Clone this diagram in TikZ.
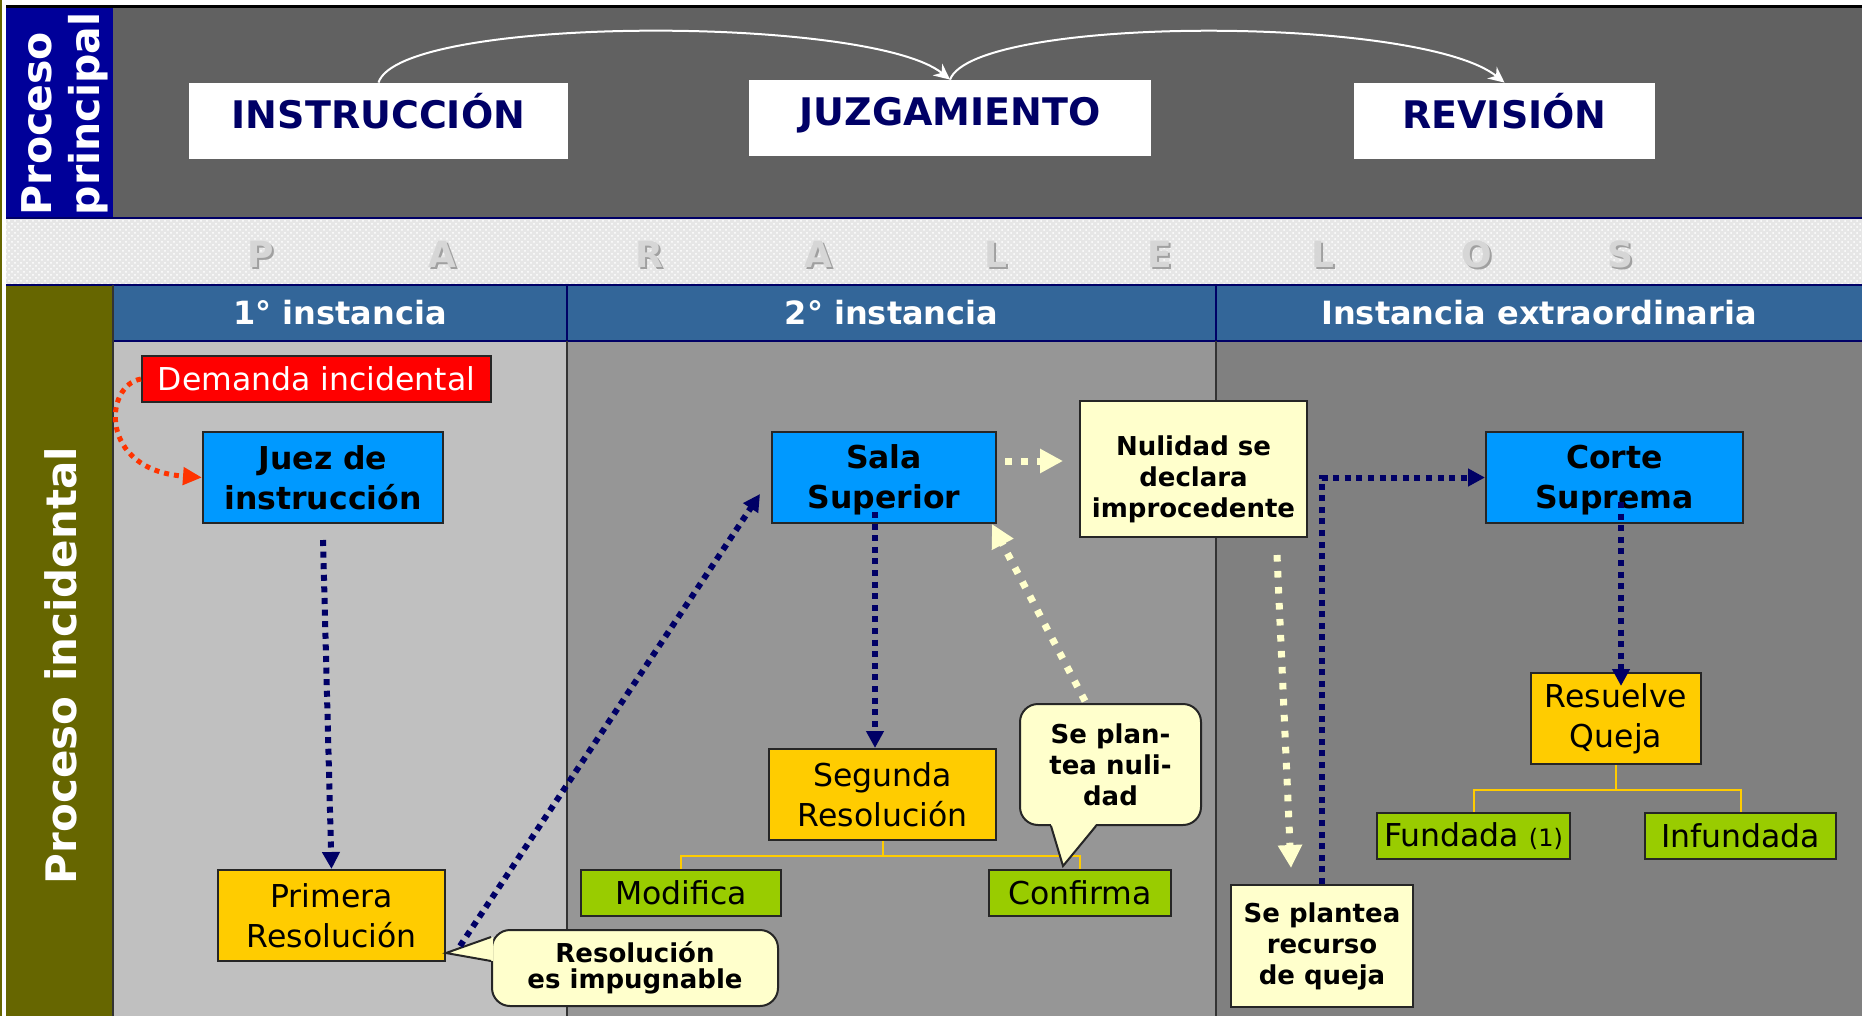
\documentclass[tikz,border=0pt]{standalone}
\usepackage{fontspec}
\setmainfont{DejaVu Sans}
\usetikzlibrary{arrows.meta,calc,patterns}
\definecolor{celeste}{HTML}{0099FF}
\definecolor{amarillo}{HTML}{FFCC00}
\definecolor{verde}{HTML}{99CC00}
\definecolor{crema}{HTML}{FFFFCC}
\definecolor{rojo}{HTML}{FF0000}
\definecolor{naranja}{HTML}{FF3300}
\definecolor{marino}{HTML}{000066}
\definecolor{azulrey}{HTML}{000099}
\definecolor{cabecera}{HTML}{336699}
\definecolor{oliva}{HTML}{666600}
\definecolor{grisA}{HTML}{616161}
\definecolor{grisB}{HTML}{C0C0C0}
\definecolor{grisC}{HTML}{969696}
\definecolor{grisD}{HTML}{808080}
\definecolor{franja}{HTML}{E6E6E6}
\definecolor{letraclara}{HTML}{D6D6D6}
\definecolor{letrasombra}{HTML}{A0A0A0}
\begin{document}
\begin{tikzpicture}[x=0.5pt,y=-0.5pt,
	caja/.style={draw=black!85, line width=1pt, inner sep=0pt, align=center},
	negrita/.style={font=\bfseries\fontsize{15.75}{20}\selectfont},
	fina/.style={font=\fontsize{15.75}{20}\selectfont},
	chica/.style={font=\bfseries\fontsize{13}{15.5}\selectfont},
	azul/.style={caja, negrita, fill=celeste, minimum height=45.5pt},
	amarilla/.style={caja, fina, fill=amarillo, minimum height=45.5pt},
	verdecaja/.style={caja, fina, fill=verde, minimum height=23pt},
	cremacaja/.style={caja, chica, fill=crema},
	blase/.style={caja, chica, fill=crema, rounded corners=9pt},
	zipfel/.style={draw=black!85, line width=1pt, fill=crema},
	titel/.style={fill=white, text=marino, inner sep=0pt, minimum height=38pt, text height=13pt, text depth=5pt, font=\bfseries\fontsize{19}{22}\selectfont},
	kopf/.style={text=white, font=\bfseries\fontsize{16}{18}\selectfont},
	letra/.style={font=\bfseries\fontsize{18}{20}\selectfont, text=letraclara},
	flecha/.style={marino, line width=3pt, dash pattern=on 3pt off 2.8pt, -{Triangle[length=8.5pt,width=8.5pt]}},
	flechaclara/.style={crema, line width=3.5pt, dash pattern=on 3.3pt off 4.7pt, -{Triangle[length=11.5pt,width=11.5pt]}},
	flecharoja/.style={naranja, line width=2.5pt, dash pattern=on 2.5pt off 2.5pt, -{Triangle[length=9.5pt,width=8.5pt]}},
	rama/.style={amarillo, line width=1pt},
	arco/.style={white, line width=1pt, -{Stealth[length=8pt,width=7.5pt]}}]
	\useasboundingbox (0,0) rectangle (1862,1016);
	% Hintergrund und Bänder
	\fill[white] (0,0) rectangle (1862,1016);
	\fill[oliva] (0,0) rectangle (2,1016);
	\fill[grisA] (113,8) rectangle (1862,218);
	\fill[azulrey] (6,8) rectangle (113,218);
	\fill[franja] (6,218) rectangle (1862,285);
	\fill[pattern=crosshatch dots, pattern color=white] (6,218) rectangle (1862,285);
	\fill[cabecera] (113,285) rectangle (1862,341);
	\fill[oliva] (6,285) rectangle (113,1016);
	\fill[grisB] (113,341) rectangle (567,1016);
	\fill[grisC] (567,341) rectangle (1216,1016);
	\fill[grisD] (1216,341) rectangle (1862,1016);
	\draw[black, line width=1.5pt] (6,7) -- (1862,7);
	\draw[marino, line width=1pt] (6,218) -- (1862,218) (6,285) -- (1862,285) (113,341) -- (1862,341)
		(567,285) -- (567,341) (1216,285) -- (1216,341);
	\draw[black!80, line width=1pt] (113,285) -- (113,1016) (567,341) -- (567,1016) (1216,341) -- (1216,1016);
	% Beschriftung links
	\node[rotate=90, text=white, align=left, font=\bfseries\fontsize{20.5}{24}\selectfont] (principal) at (64.5,114) {Proceso\\principal};
	\node[rotate=90, text=white, font=\bfseries\fontsize{21}{24}\selectfont] (incidental) at (61,665.5) {Proceso incidental};
	% Hauptprozess
	\node[titel, minimum width=189.5pt] (instr) at (378.5,121) {INSTRUCCIÓN};
	\node[titel, minimum width=201pt] (juzg) at (950,118) {JUZGAMIENTO};
	\node[titel, minimum width=150.5pt] (revis) at (1504.5,121) {REVISIÓN};
	\draw[arco] (instr.north) .. controls (400,15) and (870,15) .. (juzg.north);
	\draw[arco] (juzg.north) .. controls (975,15) and (1420,15) .. (revis.north);
	% PARALELOS
	\foreach \x/\l [count=\i] in {261/P,442/A,649/R,818/A,996/L,1160/E,1323/L,1477/O,1620/S}{
		\node[letra, text=letrasombra] (s\i) at (\x+2,256) {\l};
		\node[letra] (l\i) at (\x,254) {\l};
	}
	% Instanzen
	\node[kopf] (h1) at (340,313) {1° instancia};
	\node[kopf] (h2) at (891.5,313) {2° instancia};
	\node[kopf] (h3) at (1539,313) {Instancia extraordinaria};
	% Kästen
	\node[caja, fina, fill=rojo, text=white, minimum width=174.5pt, minimum height=23pt] (demanda) at (316.5,379) {Demanda incidental};
	\node[azul, minimum width=120pt] (juez) at (323,477.5) {Juez de\\instrucción};
	\node[amarilla, minimum width=113.5pt] (primera) at (331.5,915.5) {Primera\\Resolución};
	\node[azul, minimum width=112pt] (sala) at (884,477.5) {\strut Sala\\Superior};
	\node[amarilla, minimum width=113.5pt] (segunda) at (882.5,794.5) {Segunda\\Resolución};
	\node[verdecaja, minimum width=100pt] (modifica) at (681,893) {Modifica};
	\node[verdecaja, minimum width=91pt] (confirma) at (1080,893) {Confirma};
	\node[cremacaja, minimum width=113.5pt, minimum height=68pt] (nulidad) at (1193.5,469) {\rule{0pt}{20pt}Nulidad se\\declara\\improcedente};
	\node[cremacaja, minimum width=91pt, minimum height=61pt] (queja) at (1322,946) {Se plantea\\recurso\\de queja};
	\node[azul, minimum width=128.5pt] (corte) at (1614.5,477.5) {\strut Corte\\Suprema};
	\node[amarilla, minimum width=85pt] (resuelve) at (1616,718.5) {Resuelve\\Queja};
	\node[verdecaja, minimum width=96.5pt] (fundada) at (1473.5,836) {Fundada {\fontsize{12}{14}\selectfont(1)}};
	\node[verdecaja, minimum width=95.5pt] (infundada) at (1740.5,836) {Infundada};
	% Verzweigungen
	\draw[rama] (segunda.south) -- ++(0,15) -| (modifica.north);
	\draw[rama] (segunda.south) -- ++(0,15) -| (confirma.north);
	\draw[rama] (resuelve.south) -- ++(0,25) -| (fundada.north);
	\draw[rama] (resuelve.south) -- ++(0,25) -| (infundada.north);
	% Sprechblasen
	\node[blase, minimum width=143pt, minimum height=38pt, font=\bfseries\fontsize{13}{13}\selectfont] (impugnable) at (635,968) {Resolución\\es impugnable};
	\coordinate (spitze1) at ($(primera.south east)+(0,-9)$);
	\fill[crema] ($(impugnable.west)+(2,-31)$) -- (spitze1) -- ($(impugnable.west)+(2,-7)$) -- cycle;
	\draw[zipfel, fill=none] ($(impugnable.west)+(0,-31)$) -- (spitze1) -- ($(impugnable.west)+(0,-7)$);
	\node[blase, minimum width=90.5pt, minimum height=60.5pt] (nuli) at (1110.5,764.5) {Se plan-\\tea nuli-\\dad};
	\coordinate (spitze2) at ($(confirma.north west)+(75,-3)$);
	\fill[crema] ($(nuli.south)+(-59.5,-2)$) -- (spitze2) -- ($(nuli.south)+(-14.5,-2)$) -- cycle;
	\draw[zipfel, fill=none] ($(nuli.south)+(-59.5,0)$) -- (spitze2) -- ($(nuli.south)+(-14.5,0)$);
	% Pfeile
	\draw[flecharoja] (demanda.west) .. controls (104,385) and (98,470) .. (juez.west);
	\draw[flecha] ([yshift=-8pt]juez.south) -- (primera.north);
	\draw[flecha] ($(primera.east)+(14,30.5)$) -- ($(sala.west)+(-11,16.5)$);
	\draw[flecha] ($(sala.south)+(-9,-12)$) -- ($(segunda.north)+(-7.5,0)$);
	\draw[flecha] (queja.north) |- (corte.west);
	\draw[flecha] ($(corte.center)+(6.5,24.5)$) -- ($(resuelve.north)+(5,14)$);
	\draw[flechaclara] ($(sala.east)+(8,-16.5)$) -- ($(nulidad.west)+(-16,-8)$);
	\draw[flechaclara] ($(nuli.north)+(-25.5,-2)$) -- ($(sala.south east)+(-5,0)$);
	\draw[flechaclara] ($(nulidad.south)+(83.5,17)$) -- ($(queja.north)+(-31,-16)$);
\end{tikzpicture}
\end{document}
